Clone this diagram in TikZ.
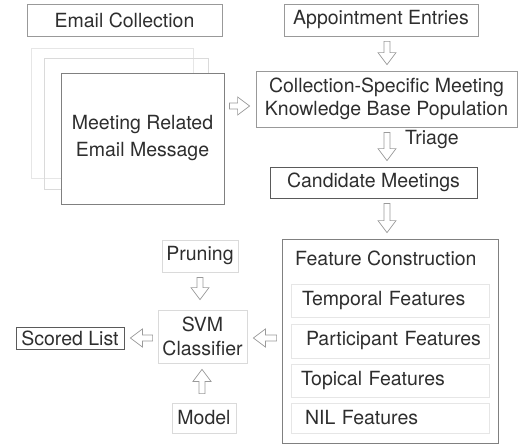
\documentclass[tikz,border=0pt]{standalone}
\usepackage{fontspec}
\setmainfont{TeX Gyre Heros}
\usetikzlibrary{positioning,calc}
\definecolor{txtgray}{HTML}{2E2E2E}
\definecolor{arrowgray}{HTML}{9A9A9A}
\definecolor{midgray}{HTML}{999999}
\definecolor{darkgray}{HTML}{5A5A5A}
\definecolor{lightgray}{HTML}{DADADA}
\definecolor{palegray}{HTML}{E6E6E6}

\tikzset{
  box/.style={draw=#1, line width=0.8pt, inner sep=0pt, align=center},
  featbox/.style={draw=palegray, line width=0.8pt, text width=190pt,
    inner xsep=4pt, inner ysep=0pt, align=left},
  % open block arrow between two points
  hollow/.style={draw=arrowgray, fill=white, line width=0.7pt, line join=miter,
    to path={
      ($(\tikztostart)!5pt!(\tikztotarget)!3pt!90:(\tikztotarget)$)
      -- ($(\tikztotarget)!18pt!(\tikztostart)!3pt!-90:(\tikztostart)$)
      -- ($(\tikztotarget)!18pt!(\tikztostart)!9pt!-90:(\tikztostart)$)
      -- ($(\tikztotarget)!6pt!(\tikztostart)$)
      -- ($(\tikztotarget)!18pt!(\tikztostart)!9pt!90:(\tikztostart)$)
      -- ($(\tikztotarget)!18pt!(\tikztostart)!3pt!90:(\tikztostart)$)
      -- ($(\tikztostart)!5pt!(\tikztotarget)!3pt!-90:(\tikztotarget)$) -- cycle}}
}

\begin{document}
\begin{tikzpicture}[x=1pt, y=-1pt, font=\fontsize{19.5}{23}\selectfont, text=txtgray]
    \useasboundingbox (0,0) rectangle (518,444);

    % email side
    \node[box=midgray, minimum width=195pt, minimum height=32pt] (ecoll) at (124.5,20) {Email Collection};
    \draw[palegray, line width=0.8pt] (31,48) rectangle (193,178);
    \draw[lightgray, line width=0.8pt] (44,58) rectangle (208,189);
    \node[box=gray, fill=white, minimum width=163pt, minimum height=131pt,
          font=\fontsize{19.5}{27}\selectfont] (msg) at (142.5,138.5) {Meeting Related\\Email Message};

    % knowledge base
    \node[box=midgray, minimum width=194pt, minimum height=32pt] (appt) at (381,20) {Appointment Entries};
    \node[box=midgray, minimum width=261pt, minimum height=56pt] (kb) at (386.5,99)
        {Collection-Specific Meeting\\Knowledge Base Population};
    \node[box=darkgray, minimum width=207pt, minimum height=31pt] (cand) at (373.5,182.5) {Candidate Meetings};
    \node[anchor=west, inner sep=0pt] (triage) at (405,140) {Triage};

    % features
    \node[box=gray, minimum width=216pt, minimum height=204pt] (feat) at (390,341) {};
    \node[anchor=west, inner sep=0pt] (ftitle) at (295,258) {Feature Construction};
    \node[featbox, minimum height=33pt] (ftemp) at (390,300.5) {\hspace*{7pt}Temporal Features};
    \node[featbox, minimum height=34pt] (fpart) at (390,341) {\hspace*{11pt}Participant Features};
    \node[featbox, minimum height=33pt] (ftopic) at (390,380.5) {\hspace*{6pt}Topical Features};
    \node[featbox, minimum height=30pt] (fnil) at (390,418) {\hspace*{10pt}NIL Features};

    % classifier
    \node[box=lightgray, minimum width=76pt, minimum height=32pt] (prune) at (200,256) {Pruning};
    \node[box=lightgray, minimum width=89pt, minimum height=53pt,
          font=\fontsize{19.5}{24}\selectfont] (svm) at (202.5,336.5) {SVM\\Classifier};
    \node[box=lightgray, minimum width=64pt, minimum height=30pt] (model) at (204,418) {Model};
    \node[box=darkgray, minimum width=108pt, minimum height=22pt] (scored) at (70,338) {Scored List};

    % arrows
    \draw[hollow] (msg.east |- 0,106) to (kb.west |- 0,106);
    \draw[hollow] (appt.south -| 387,0) to (kb.north -| 387,0);
    \draw[hollow] (kb.south -| 387,0) to (cand.north -| 387,0);
    \draw[hollow] (cand.south -| 387,0) to (feat.north -| 387,0);
    \draw[hollow] (prune.south -| 200,0) to ([yshift=4pt]svm.north -| 200,0);
    \draw[hollow] ([yshift=4pt]model.north -| 202,0) to (svm.south -| 202,0);
    \draw[hollow] (feat.west |- 0,338) to (svm.east |- 0,338);
    \draw[hollow] (svm.west |- 0,338) to (scored.east |- 0,338);
\end{tikzpicture}
\end{document}
